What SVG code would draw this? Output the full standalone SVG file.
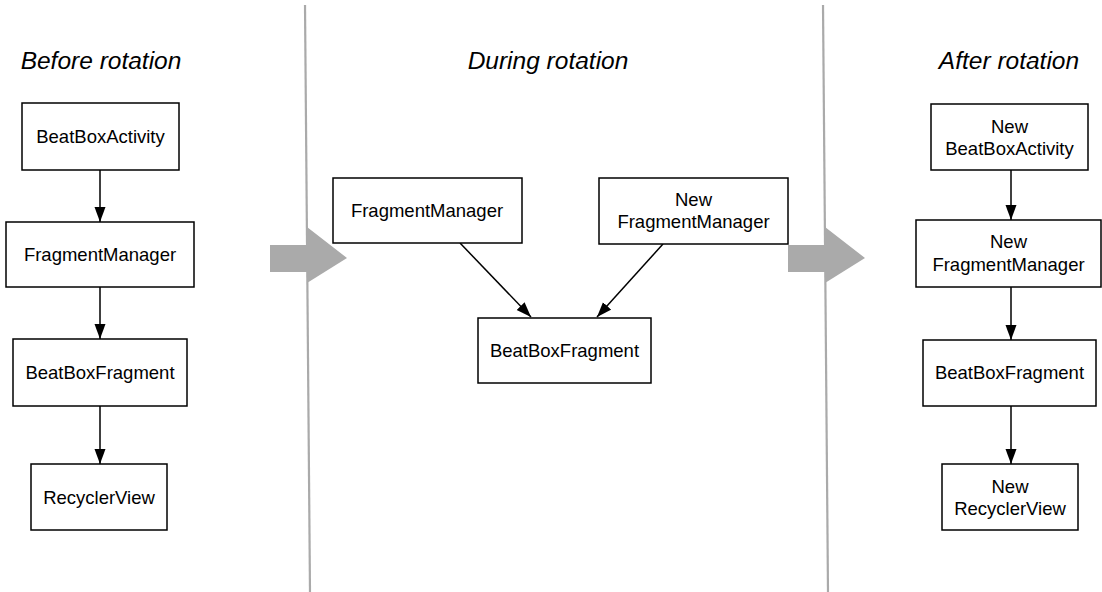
<svg xmlns="http://www.w3.org/2000/svg" width="1102" height="592" viewBox="0 0 1102 592">
<style>
.box{fill:#fff;stroke:#000;stroke-width:1.5}
.t{font-family:"Liberation Sans",Arial,sans-serif;font-size:18.5px;fill:#000;text-anchor:middle}
.title{font-family:"Liberation Sans",Arial,sans-serif;font-size:24.5px;font-style:italic;fill:#000;text-anchor:middle}
.c{stroke:#000;stroke-width:1.5;fill:none;marker-end:url(#ah)}
.div{stroke:#aaa;stroke-width:2.2;fill:none}
.big{fill:#aaa}
</style>
<defs>
<marker id="ah" markerUnits="userSpaceOnUse" markerWidth="15" markerHeight="12" refX="15" refY="5.5" orient="auto" viewBox="0 0 15 11">
<path d="M0,0 L15,5.5 L0,11 z" fill="#000"/>
</marker>
</defs>
<rect width="1102" height="592" fill="#fff"/>
<g id="dividers">
<line class="div" x1="305" y1="5" x2="310" y2="592"/>
<line class="div" x1="823" y1="5" x2="828" y2="592"/>
<path class="big" d="M270,245 L307,245 L307,227 L347,258 L307,283 L307,272 L270,272 z"/>
<path class="big" d="M788,245 L825,245 L825,227 L865,258 L825,283 L825,272 L788,272 z"/>
</g>
<g id="titles">
<text class="title" x="101" y="69">Before rotation</text>
<text class="title" x="548" y="69">During rotation</text>
<text class="title" x="1009" y="69">After rotation</text>
</g>
<g id="connectors">
<line class="c" x1="100" y1="170" x2="100" y2="222"/>
<line class="c" x1="100" y1="287" x2="100" y2="339"/>
<line class="c" x1="100" y1="406" x2="100" y2="464"/>
<line class="c" x1="460" y1="243" x2="531" y2="317"/>
<line class="c" x1="663" y1="244" x2="597" y2="317"/>
<line class="c" x1="1011" y1="170" x2="1011" y2="220"/>
<line class="c" x1="1011" y1="287" x2="1011" y2="340"/>
<line class="c" x1="1011" y1="406" x2="1011" y2="464"/>
</g>
<g id="before-activity"><rect class="box" x="22" y="103" width="157" height="67"/><text class="t" x="100.5" y="143">BeatBoxActivity</text></g>
<g id="before-fm"><rect class="box" x="6" y="222" width="188" height="65"/><text class="t" x="100" y="261">FragmentManager</text></g>
<g id="before-fragment"><rect class="box" x="13" y="339" width="174" height="67"/><text class="t" x="100" y="379">BeatBoxFragment</text></g>
<g id="before-rv"><rect class="box" x="31" y="464" width="136" height="66"/><text class="t" x="99" y="503.5">RecyclerView</text></g>
<g id="during-fm"><rect class="box" x="333" y="178" width="189" height="65"/><text class="t" x="427" y="217">FragmentManager</text></g>
<g id="during-newfm"><rect class="box" x="599" y="178" width="189" height="66"/><text class="t" x="693.5" y="206">New</text><text class="t" x="693.5" y="228">FragmentManager</text></g>
<g id="during-fragment"><rect class="box" x="478" y="318" width="173" height="65"/><text class="t" x="564.5" y="357">BeatBoxFragment</text></g>
<g id="after-activity"><rect class="box" x="931" y="104" width="157" height="66"/><text class="t" x="1009.5" y="133">New</text><text class="t" x="1009.5" y="155">BeatBoxActivity</text></g>
<g id="after-fm"><rect class="box" x="916" y="220" width="185" height="67"/><text class="t" x="1008.5" y="248">New</text><text class="t" x="1008.5" y="271">FragmentManager</text></g>
<g id="after-fragment"><rect class="box" x="923" y="340" width="173" height="66"/><text class="t" x="1009.5" y="379">BeatBoxFragment</text></g>
<g id="after-rv"><rect class="box" x="942" y="464" width="136" height="66"/><text class="t" x="1010" y="493">New</text><text class="t" x="1010" y="515">RecyclerView</text></g>
</svg>
